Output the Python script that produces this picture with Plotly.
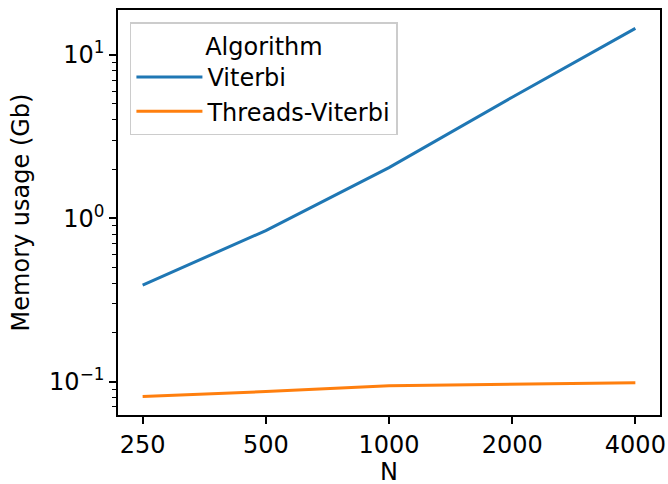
import plotly.graph_objects as go
import math

N_values = [250, 500, 1000, 2000, 4000]
viterbi_mem = [0.39, 0.84, 2.04, 5.5, 14.5]
threads_viterbi_mem = [0.081, 0.087, 0.0945, 0.096, 0.0985]
x_tick_labels = ["250", "500", "1000", "2000", "4000"]
y_tick_vals = [0.1, 1, 10]
y_tick_labels = ["10<sup>\u22121</sup>", "10<sup>0</sup>", "10<sup>1</sup>"]
y_minor_vals = [0.07, 0.08, 0.09, 0.2, 0.3, 0.4, 0.5, 0.6, 0.7, 0.8, 0.9,
                2, 3, 4, 5, 6, 7, 8, 9]

FONT = "DejaVu Sans"

fig = go.Figure()
fig.add_trace(go.Scatter(x=N_values, y=viterbi_mem, mode="lines", name="Viterbi",
                         line=dict(color="#1f77b4", width=3)))
fig.add_trace(go.Scatter(x=N_values, y=threads_viterbi_mem, mode="lines", name="Threads-Viterbi",
                         line=dict(color="#ff7f0e", width=3)))

lx0, lx1 = math.log10(N_values[0]), math.log10(N_values[-1])
xm = 0.05 * (lx1 - lx0)
ally = viterbi_mem + threads_viterbi_mem
ly0, ly1 = math.log10(min(ally)), math.log10(max(ally))
ym = 0.05 * (ly1 - ly0)

fig.update_layout(
    width=668, height=484,
    margin=dict(l=118, r=8, t=10, b=69),
    paper_bgcolor="white", plot_bgcolor="white",
    font=dict(family=FONT, size=24, color="black"),
    showlegend=True,
    legend=dict(
        x=0.022, y=0.97, xanchor="left", yanchor="top",
        bgcolor="rgba(255,255,255,0.8)", bordercolor="#cccccc", borderwidth=1.5,
        title=dict(text="Algorithm", side="top center", font=dict(size=24)),
        font=dict(size=24),
        itemwidth=66,
    ),
    xaxis=dict(
        type="log", range=[lx0 - xm, lx1 + xm],
        tickvals=N_values, ticktext=x_tick_labels,
        ticks="outside", ticklen=7, tickwidth=1.6, tickcolor="black",
        showline=True, linecolor="black", linewidth=1.6, mirror=True,
        showgrid=False, zeroline=False, automargin=False,
        tickfont=dict(size=24),
    ),
    yaxis=dict(
        type="log", range=[ly0 - ym, ly1 + ym],
        tickvals=y_tick_vals, ticktext=y_tick_labels,
        ticks="outside", ticklen=7, tickwidth=1.6, tickcolor="black",
        showline=True, linecolor="black", linewidth=1.6, mirror=True,
        showgrid=False, zeroline=False, automargin=False,
        minor=dict(tickvals=y_minor_vals, ticks="outside", ticklen=4, tickwidth=1.2,
                   tickcolor="black", showgrid=False),
        title=dict(text="Memory usage (Gb)", standoff=13, font=dict(size=24)),
        tickfont=dict(size=24),
    ),
    annotations=[dict(
        text="N", xref="paper", yref="paper", x=0.5, y=0,
        xanchor="center", yanchor="middle", yshift=-57, height=20,
        showarrow=False,
        font=dict(size=24, family=FONT, color="black"),
    )],
)

fig.write_html("out.html")
